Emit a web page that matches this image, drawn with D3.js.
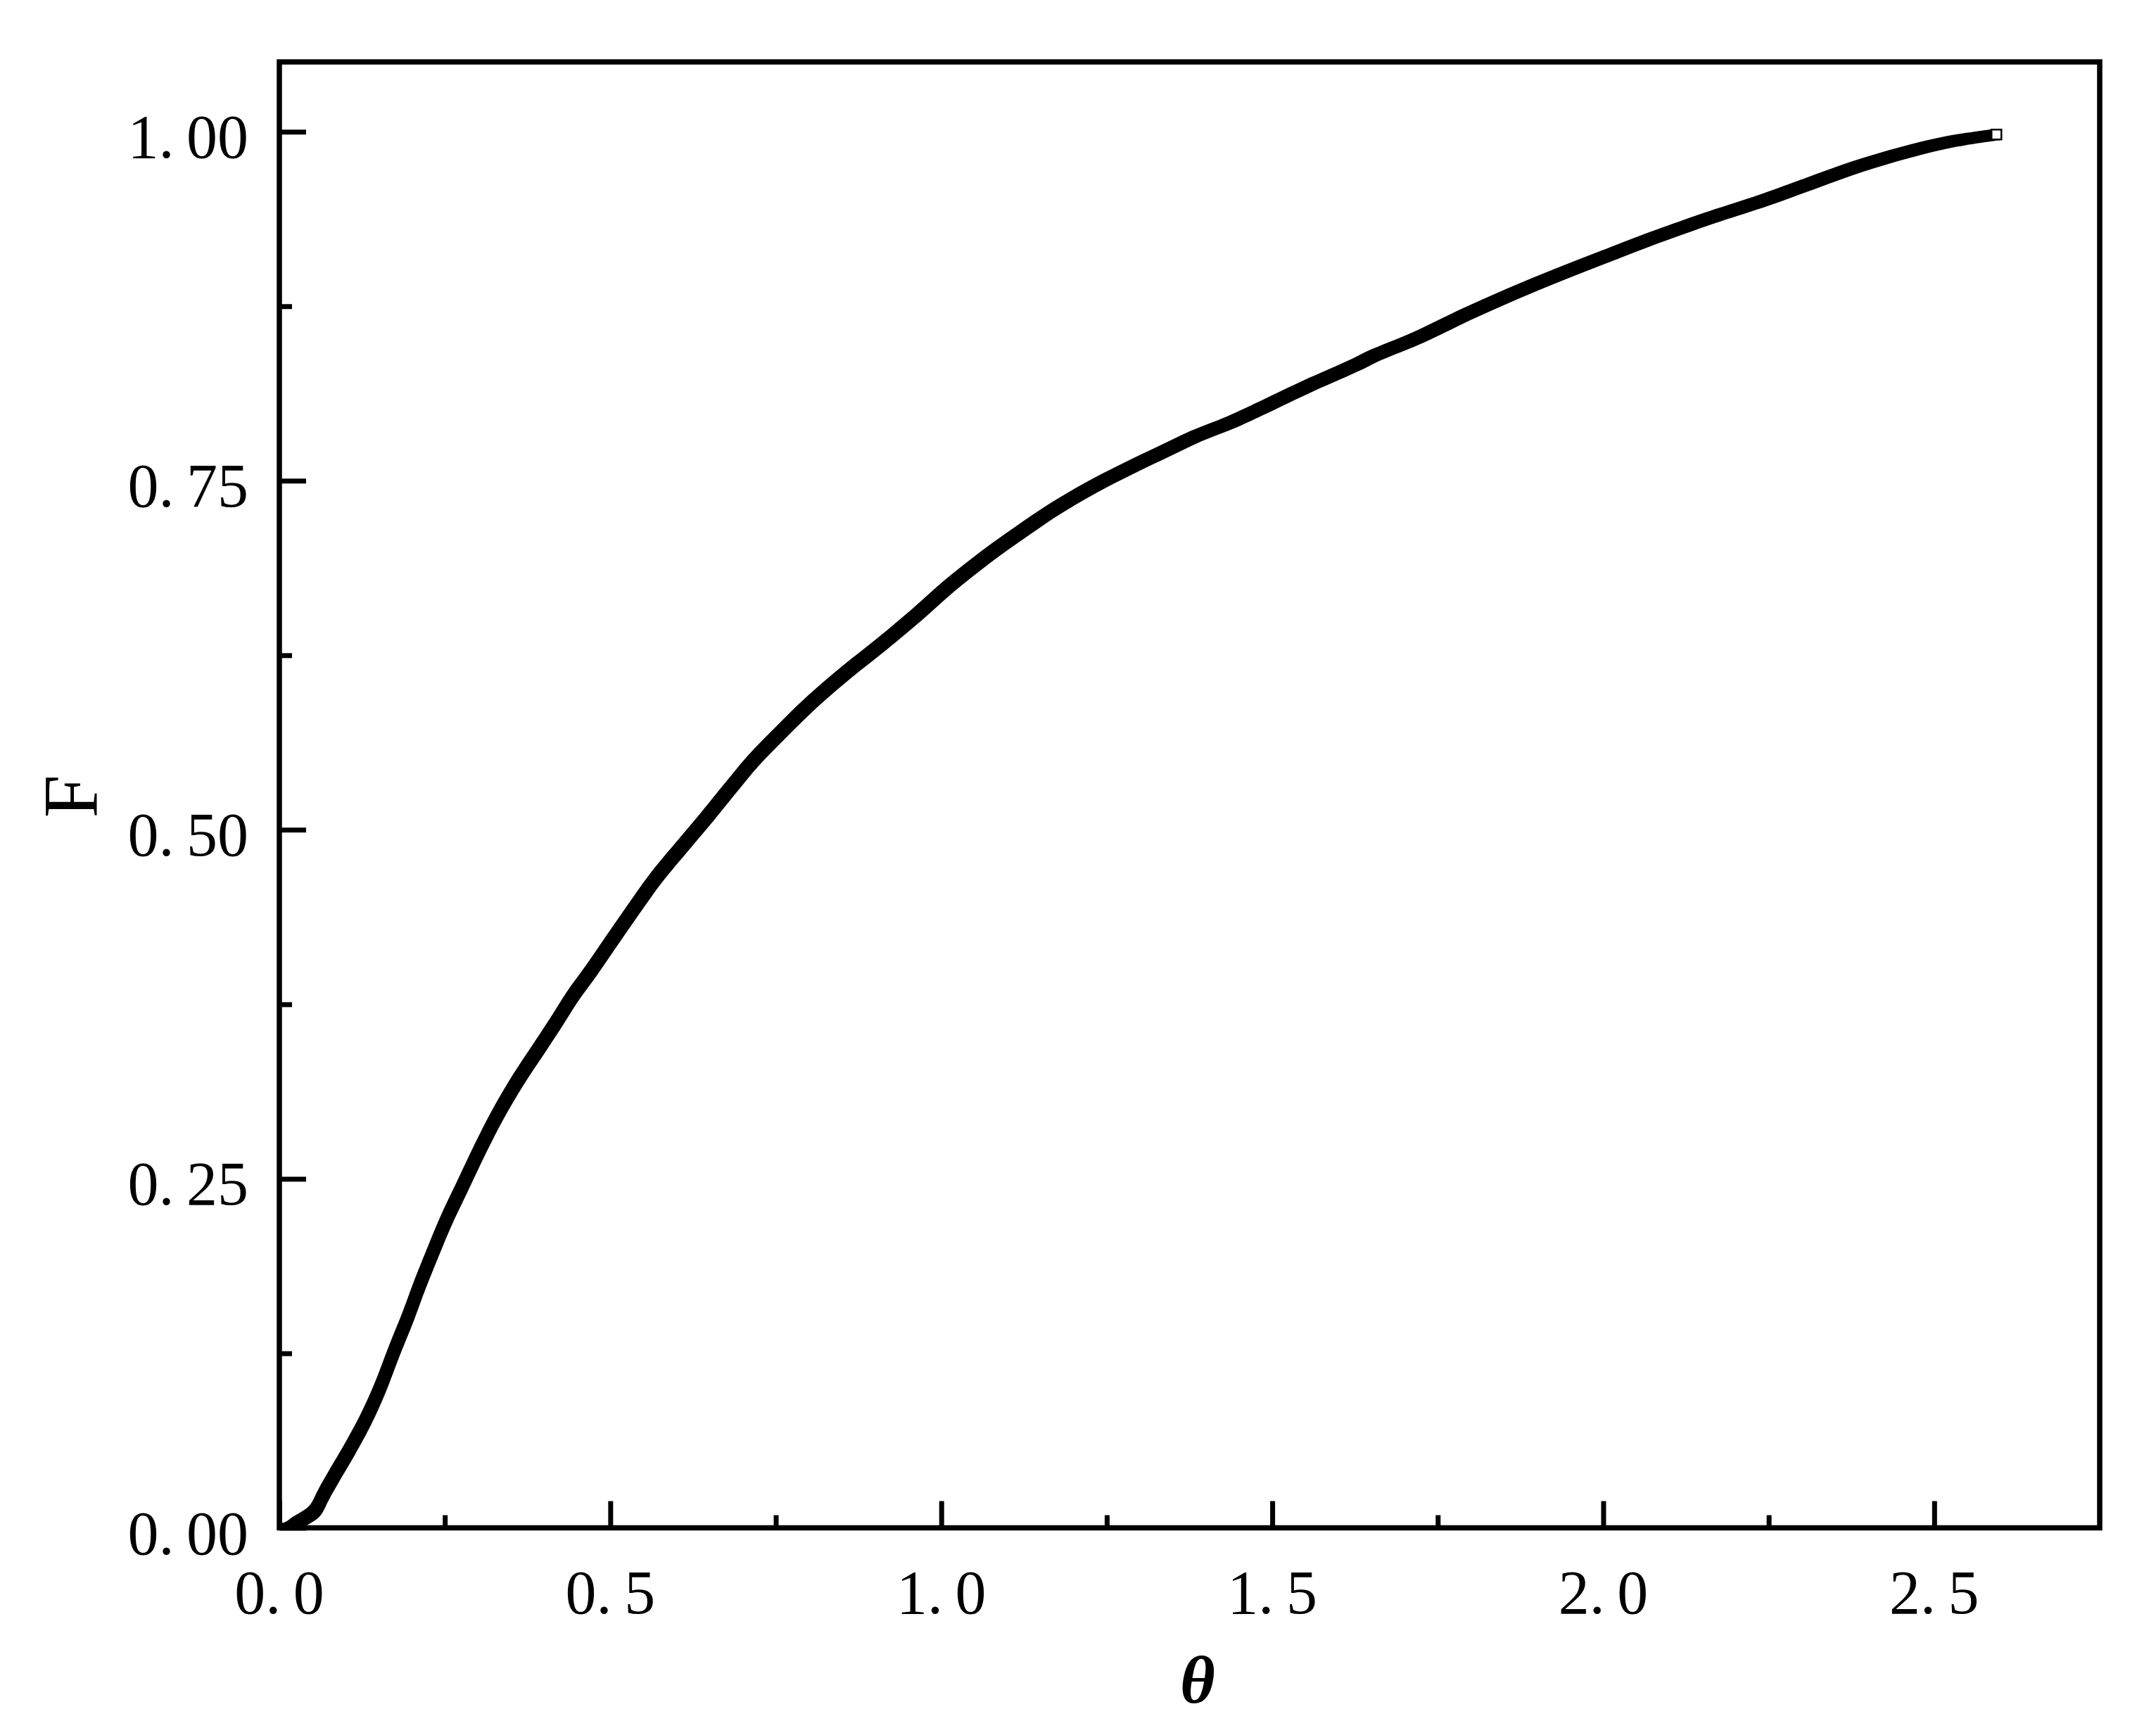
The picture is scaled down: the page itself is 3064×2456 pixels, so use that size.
<!DOCTYPE html>
<html>
<head>
<meta charset="utf-8">
<script src="https://cdn.jsdelivr.net/npm/d3@7"></script>
<style>
  html, body { margin: 0; padding: 0; background: #fff; }
  svg { display: block; }
</style>
</head>
<body>
<svg id="chart" width="3064" height="2456"></svg>
<script>
// ---- data ----
const thetaVals = [0.000, 0.015, 0.028, 0.053, 0.067, 0.085, 0.106, 0.131, 0.152, 0.173, 0.195, 0.213, 0.230, 0.251, 0.276,
  0.304, 0.330, 0.361, 0.393, 0.418, 0.442, 0.471, 0.500, 0.535, 0.570, 0.612,
  0.644, 0.680, 0.715, 0.758, 0.808, 0.857, 0.910, 0.963,
  1.013, 1.066, 1.119, 1.172, 1.226, 1.279, 1.332, 1.385, 1.438, 1.484,
  1.555, 1.626, 1.651, 1.722, 1.792, 1.863, 1.935, 2.005, 2.076, 2.147,
  2.172, 2.243, 2.313, 2.384, 2.455, 2.526, 2.594];
const fVals = [0.000, 0.000, 0.004, 0.012, 0.024, 0.039, 0.056, 0.078, 0.100, 0.126, 0.152, 0.175, 0.195, 0.219, 0.244,
  0.272, 0.296, 0.321, 0.344, 0.362, 0.380, 0.399, 0.419, 0.443, 0.466, 0.490,
  0.508, 0.529, 0.549, 0.570, 0.593, 0.613, 0.633, 0.654,
  0.675, 0.695, 0.713, 0.730, 0.745, 0.758, 0.770, 0.782, 0.792, 0.802,
  0.818, 0.833, 0.839, 0.853, 0.869, 0.884, 0.898, 0.911, 0.924, 0.936,
  0.940, 0.951, 0.963, 0.975, 0.985, 0.993, 0.998];

const xMajorTicks = [0.0, 0.5, 1.0, 1.5, 2.0, 2.5];
const xMinorTicks = [0.25, 0.75, 1.25, 1.75, 2.25];
const yMajorTicks = [0.00, 0.25, 0.50, 0.75, 1.00];
const yMinorTicks = [0.125, 0.375, 0.625, 0.875];
const xTitle = "θ";
const yTitle = "F";

// ---- layout ----
const svg = d3.select("#chart");
const L = 397, R = 2984, T = 88, B = 2171.5;
const x = d3.scaleLinear().domain([0, 2.75]).range([L, R]);
const y = d3.scaleLinear().domain([0, 1.05]).range([B, T]);
const font = "'Liberation Serif', 'Times New Roman', serif";

svg.append("rect").attr("width", 3064).attr("height", 2456).attr("fill", "#fff");

svg.append("defs").append("clipPath").attr("id", "plotclip")
  .append("rect").attr("x", L).attr("y", T).attr("width", R - L).attr("height", B - T);

// ---- data band: square markers swept along the series ----
const pts = thetaVals.map((t, i) => [x(t), y(fVals[i])]);
const h = 7.5;
const smooth = d3.line().curve(d3.curveCatmullRom.alpha(0.5));
const topTrace = pts.map(p => [p[0] - h, p[1] - h]);
const botTrace = pts.slice().reverse().map(p => [p[0] + h, p[1] + h]);
const last = pts[pts.length - 1], first = pts[0];
const bandD = smooth(topTrace)
  + `L${last[0] + h},${last[1] - h}`
  + smooth(botTrace).replace(/^M/, "L")
  + `L${first[0] - h},${first[1] + h}Z`;
svg.append("path")
  .attr("clip-path", "url(#plotclip)")
  .attr("d", bandD)
  .attr("fill", "#000");

svg.append("rect")
  .attr("x", last[0] - 7).attr("y", last[1] - 7)
  .attr("width", 14).attr("height", 14)
  .attr("fill", "#fff").attr("stroke", "#000").attr("stroke-width", 2.5);

// ---- axes (ticks inward) ----
function styleAxis(g) {
  g.select(".domain").remove();
  g.selectAll(".tick line").attr("stroke", "#000").attr("stroke-width", 7);
  g.selectAll(".tick text").remove();
}
svg.append("g").attr("transform", `translate(0,${B})`)
  .call(d3.axisBottom(x).tickValues(xMajorTicks).tickSizeInner(-38).tickSizeOuter(0).tickFormat(""))
  .call(styleAxis);
svg.append("g").attr("transform", `translate(0,${B})`)
  .call(d3.axisBottom(x).tickValues(xMinorTicks).tickSizeInner(-18).tickSizeOuter(0).tickFormat(""))
  .call(styleAxis);
svg.append("g").attr("transform", `translate(${L},0)`)
  .call(d3.axisLeft(y).tickValues(yMajorTicks).tickSizeInner(-38).tickSizeOuter(0).tickFormat(""))
  .call(styleAxis);
svg.append("g").attr("transform", `translate(${L},0)`)
  .call(d3.axisLeft(y).tickValues(yMinorTicks).tickSizeInner(-18).tickSizeOuter(0).tickFormat(""))
  .call(styleAxis);

// frame
svg.append("rect")
  .attr("x", L).attr("y", T).attr("width", R - L).attr("height", B - T)
  .attr("fill", "none").attr("stroke", "#000").attr("stroke-width", 7.5);

// ---- tick labels ----
function addLabel(sel, str) {
  const parts = str.split(".");
  sel.append("tspan").text(parts[0] + ".");
  sel.append("tspan").attr("dx", "0.2em").text(parts[1]);
}
svg.append("g").selectAll("text").data(xMajorTicks).join("text")
  .attr("x", d => x(d)).attr("y", 2293)
  .attr("text-anchor", "middle")
  .attr("font-family", font).attr("font-size", 88).attr("fill", "#000")
  .each(function (d) { addLabel(d3.select(this), d.toFixed(1)); });

svg.append("g").selectAll("text").data(yMajorTicks).join("text")
  .attr("x", 353).attr("y", d => y(d) + 37)
  .attr("text-anchor", "end")
  .attr("font-family", font).attr("font-size", 88).attr("fill", "#000")
  .each(function (d) { addLabel(d3.select(this), d.toFixed(2)); });

// ---- axis titles ----
svg.append("text")
  .attr("x", 1702).attr("y", 2420)
  .attr("text-anchor", "middle")
  .attr("font-family", font).attr("font-size", 96)
  .attr("font-weight", "bold").attr("font-style", "italic")
  .text(xTitle);

svg.append("text")
  .attr("transform", "translate(138,1132) rotate(-90)")
  .attr("text-anchor", "middle")
  .attr("font-family", font).attr("font-size", 110)
  .text(yTitle);
</script>
</body>
</html>
